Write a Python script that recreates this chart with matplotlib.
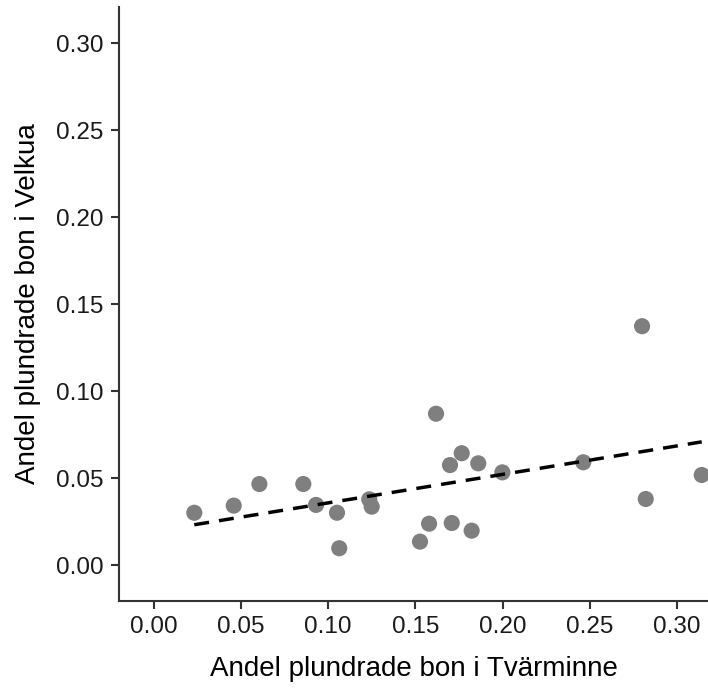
import numpy as np
import matplotlib
matplotlib.use("Agg")
import matplotlib.pyplot as plt

plt.rcParams["font.family"] = ["Liberation Sans", "DejaVu Sans"]

# proportion of plundered nests, one point per year
tvarminne = [0.0233, 0.0459, 0.0606, 0.0858, 0.0931, 0.1051, 0.1064, 0.1236,
             0.1250, 0.1619, 0.1766, 0.1699, 0.1861, 0.1999, 0.2463, 0.2800,
             0.2821, 0.3142, 0.1579, 0.1709, 0.1823, 0.1527]
velkua = [0.0302, 0.0343, 0.0467, 0.0467, 0.0347, 0.0302, 0.0098, 0.0379,
          0.0337, 0.0871, 0.0644, 0.0576, 0.0586, 0.0534, 0.0592, 0.1374,
          0.0381, 0.0519, 0.0239, 0.0243, 0.0199, 0.0136]
ticks = [0.00, 0.05, 0.10, 0.15, 0.20, 0.25, 0.30]

x = np.array(tvarminne)
y = np.array(velkua)
slope, intercept = np.polyfit(x, y, 1)

fig = plt.figure(figsize=(7.08, 6.88), dpi=100)
ax = fig.add_axes([0.168, 0.127, 0.832, 0.863])

ax.scatter(x, y, s=135, color="#7f7f7f", edgecolors="none", zorder=2)
xs = np.array([x.min(), x.max()])
ax.plot(xs, intercept + slope * xs, color="black", lw=2.5, dashes=(4.3, 2.9), zorder=3)

ax.set_xlim(-0.0199, 0.3178)
ax.set_ylim(-0.0203, 0.3209)
ax.set_xticks(ticks)
ax.set_yticks(ticks)
ax.set_xticklabels([f"{t:.2f}" for t in ticks])
ax.set_yticklabels([f"{t:.2f}" for t in ticks])

for side in ("top", "right"):
    ax.spines[side].set_visible(False)
for side in ("left", "bottom"):
    ax.spines[side].set_color("#333333")
    ax.spines[side].set_linewidth(1.5)
ax.tick_params(length=6, width=1.5, color="#333333", labelsize=17.5,
               labelcolor="#1a1a1a", pad=5)

ax.set_xlabel("Andel plundrade bon i Tvärminne", fontsize=20, labelpad=13)
ax.set_ylabel("Andel plundrade bon i Velkua", fontsize=20, labelpad=11)

fig.savefig("out.png", dpi=100)
